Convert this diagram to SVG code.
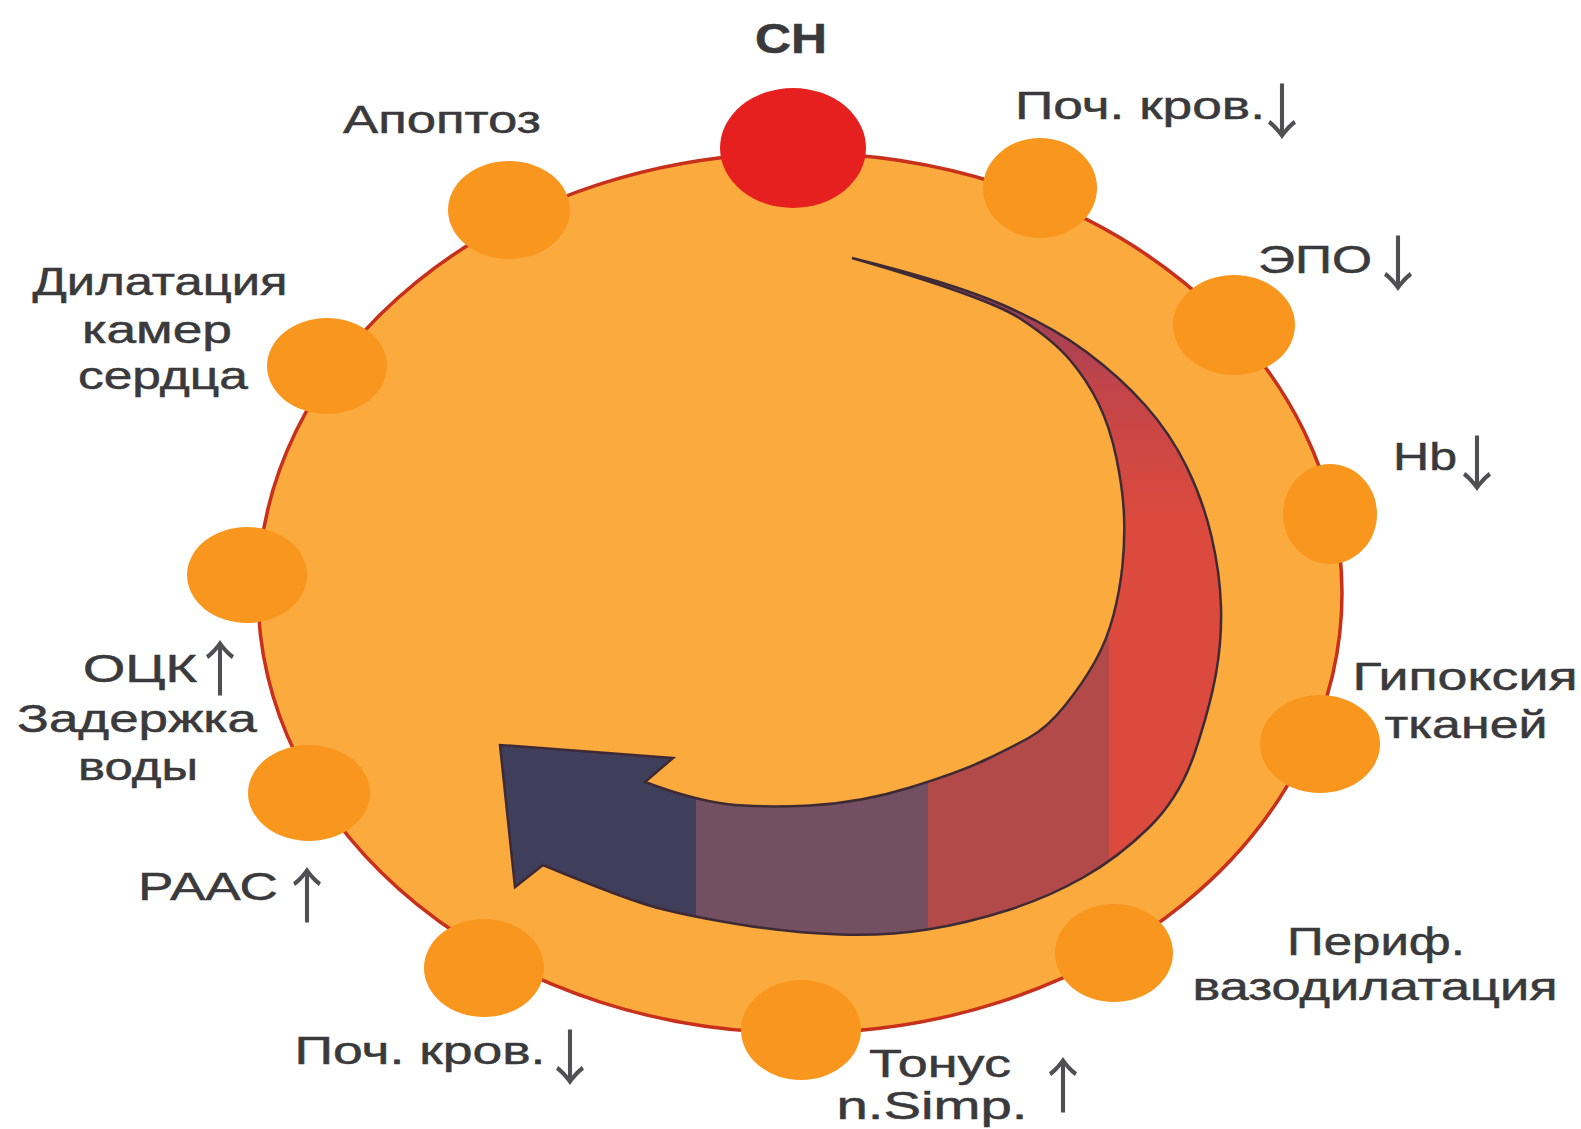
<svg xmlns="http://www.w3.org/2000/svg" width="1581" height="1129" viewBox="0 0 1581 1129">
<style>
.lbl{font-family:"Liberation Sans",Arial,sans-serif;font-size:39px;fill:#3a3a3c;stroke:#3a3a3c;stroke-width:0.5;text-anchor:middle}
.arr{font-family:"Noto Sans CJK JP","Noto Sans CJK SC",sans-serif;font-size:60px;fill:#505052;text-anchor:middle}
.dot{fill:#F8961D}
</style>
<defs>
<linearGradient id="topgrad" x1="0" y1="250" x2="0" y2="520" gradientUnits="userSpaceOnUse">
<stop offset="0" stop-color="#7E3D60"/>
<stop offset="0.5" stop-color="#C2444A"/>
<stop offset="1" stop-color="#DC4A3D"/>
</linearGradient>
<clipPath id="arrowclip">
<path id="arrowshape" d="M852,258 Q953,283 1003,305 Q1053,327 1086.5,352 Q1120,377 1145,405 Q1170,433 1186.5,466.5 Q1203,500 1211.5,536.5 Q1220,573 1221,606.5 Q1222,640 1216,673.5 Q1210,707 1195,752 Q1180,797 1149.5,827 Q1119,857 1084,877 Q1049,897 1008.5,910 Q968,923 927.5,929.5 Q887,936 840,934.5 Q793,933 743,925 Q693,917 660,908.5 Q627,900 543,865 L515,887 L500,745 L673,758 L645,782 Q693,800 726.5,804 Q760,808 810,805.5 Q860,803 910,787.5 Q960,772 985,760 Q1010,748 1028.5,738 Q1047,728 1065,705.5 Q1083,683 1095,661.5 Q1107,640 1113.5,615 Q1120,590 1122.5,565 Q1125,540 1124,515 Q1123,490 1116.5,458.5 Q1110,427 1098.5,403.5 Q1087,380 1070,360 Q1053,340 1020,318.5 Q987,297 852,258 Z"/>
</clipPath>
</defs>
<rect width="1581" height="1129" fill="#ffffff"/>

<g id="ring">
<ellipse cx="800" cy="593" rx="542" ry="440" fill="#FBAB3D" stroke="#C8301C" stroke-width="3.5"/>
</g>

<g id="cycle-arrow">
<g clip-path="url(#arrowclip)">
<rect x="480" y="240" width="216" height="720" fill="#3F3F5C"/>
<rect x="696" y="240" width="232" height="720" fill="#725062"/>
<rect x="928" y="240" width="181" height="720" fill="#B24A49"/>
<rect x="1109" y="240" width="130" height="720" fill="url(#topgrad)"/>
<rect x="928" y="240" width="181" height="300" fill="url(#topgrad)"/>
</g>
<use href="#arrowshape" fill="none" stroke="#3E2A35" stroke-width="2.5" stroke-linejoin="miter"/>
</g>

<g id="node-ch">
<ellipse cx="793" cy="148" rx="73" ry="60" fill="#E6201E"/>
<text x="791" y="53" class="lbl" style="font-weight:bold;font-size:42px" textLength="72" lengthAdjust="spacingAndGlyphs">СН</text>
</g>

<g id="node-pochkrov-top">
<ellipse class="dot" cx="1040" cy="188" rx="57" ry="50"/>
<text x="1140" y="119" class="lbl" textLength="250" lengthAdjust="spacingAndGlyphs">Поч. кров.</text>
<text x="1282" y="134" class="arr">↓</text>
</g>

<g id="node-epo">
<ellipse class="dot" cx="1234" cy="325" rx="61" ry="50"/>
<text x="1315" y="273" class="lbl" textLength="114" lengthAdjust="spacingAndGlyphs">ЭПО</text>
<text x="1398" y="286" class="arr">↓</text>
</g>

<g id="node-hb">
<ellipse class="dot" cx="1330" cy="514" rx="47" ry="50"/>
<text x="1425" y="470" class="lbl" textLength="64" lengthAdjust="spacingAndGlyphs">Hb</text>
<text x="1477" y="486" class="arr">↓</text>
</g>

<g id="node-hypoxia">
<ellipse class="dot" cx="1320" cy="744" rx="60" ry="49"/>
<text x="1465" y="690" class="lbl" textLength="225" lengthAdjust="spacingAndGlyphs">Гипоксия</text>
<text x="1466" y="738" class="lbl" textLength="163" lengthAdjust="spacingAndGlyphs">тканей</text>
</g>

<g id="node-perif">
<ellipse class="dot" cx="1114" cy="953" rx="59" ry="49"/>
<text x="1376" y="955" class="lbl" textLength="178" lengthAdjust="spacingAndGlyphs">Периф.</text>
<text x="1375" y="1000" class="lbl" textLength="365" lengthAdjust="spacingAndGlyphs">вазодилатация</text>
</g>

<g id="node-tonus">
<ellipse class="dot" cx="801" cy="1030" rx="60" ry="50"/>
<text x="940" y="1077" class="lbl" textLength="142" lengthAdjust="spacingAndGlyphs">Тонус</text>
<text x="932" y="1119" class="lbl" textLength="191" lengthAdjust="spacingAndGlyphs">n.Simp.</text>
<text x="1063" y="1108" class="arr">↑</text>
</g>

<g id="node-pochkrov-bottom">
<ellipse class="dot" cx="484" cy="968" rx="60" ry="49"/>
<text x="420" y="1064" class="lbl" textLength="251" lengthAdjust="spacingAndGlyphs">Поч. кров.</text>
<text x="570" y="1080" class="arr">↓</text>
</g>

<g id="node-raas">
<ellipse class="dot" cx="309" cy="793" rx="61" ry="48"/>
<text x="208" y="900" class="lbl" textLength="140" lengthAdjust="spacingAndGlyphs">РААС</text>
<text x="307" y="918" class="arr">↑</text>
</g>

<g id="node-ock">
<ellipse class="dot" cx="247" cy="575" rx="60" ry="48"/>
<text x="140" y="682" class="lbl" textLength="114" lengthAdjust="spacingAndGlyphs">ОЦК</text>
<text x="220" y="691" class="arr">↑</text>
<text x="137" y="732" class="lbl" textLength="240" lengthAdjust="spacingAndGlyphs">Задержка</text>
<text x="138" y="780" class="lbl" textLength="120" lengthAdjust="spacingAndGlyphs">воды</text>
</g>

<g id="node-dilat">
<ellipse class="dot" cx="327" cy="366" rx="60" ry="48"/>
<text x="160" y="295" class="lbl" textLength="255" lengthAdjust="spacingAndGlyphs">Дилатация</text>
<text x="157" y="343" class="lbl" textLength="150" lengthAdjust="spacingAndGlyphs">камер</text>
<text x="163" y="389" class="lbl" textLength="170" lengthAdjust="spacingAndGlyphs">сердца</text>
</g>

<g id="node-apoptoz">
<ellipse class="dot" cx="509" cy="210" rx="61" ry="49"/>
<text x="442" y="133" class="lbl" textLength="198" lengthAdjust="spacingAndGlyphs">Апоптоз</text>
</g>
</svg>
